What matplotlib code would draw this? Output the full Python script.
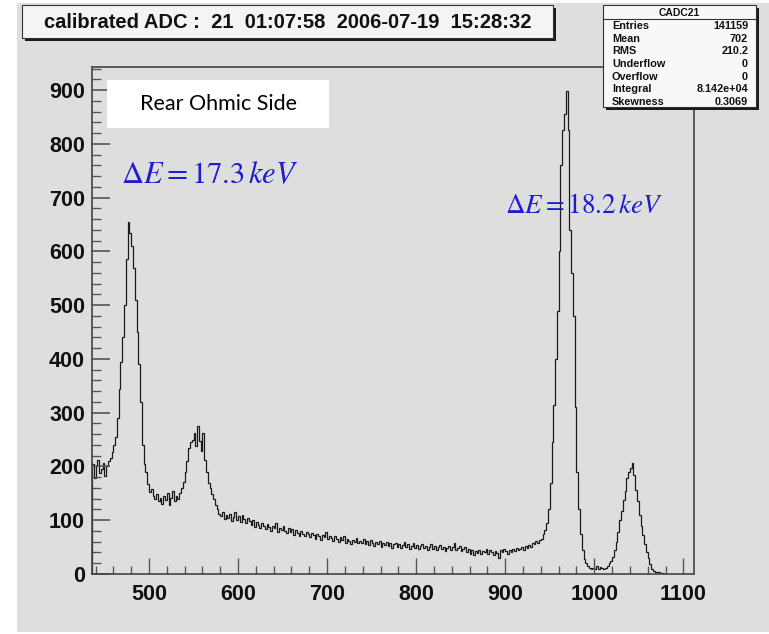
import numpy as np
import matplotlib.pyplot as plt
from matplotlib.patches import Rectangle
from matplotlib.ticker import MultipleLocator

W, H = 769, 634

# calibrated ADC spectrum, 2-unit bins starting at 436
adc_lo, adc_step = 436, 2
counts = [
    205, 178, 200, 212, 188, 196, 207, 183, 201, 210,   # 436
    215, 226, 240, 255, 290, 345, 395, 440, 500, 585,   # 456
    655, 635, 610, 570, 510, 450, 390, 320, 240, 205,   # 476
    190, 168, 152, 158, 145, 140, 148, 136, 142, 130,   # 496
    145, 138, 150, 128, 142, 155, 135, 146, 140, 150,   # 516
    160, 172, 190, 210, 235, 245, 250, 262, 238, 275,   # 536
    248, 228, 262, 212, 190, 170, 160, 148, 140, 128,   # 556
    120, 112, 108, 115, 102, 110, 104, 112, 98, 106,    # 576
    115, 100, 108, 96, 110, 102, 94, 105, 98, 92,       # 596
    100, 88, 97, 92, 86, 95, 90, 84, 93, 88,            # 616
    80, 90, 85, 94, 78, 86, 82, 90, 80, 76,             # 636
    85, 79, 84, 73, 82, 77, 71, 80, 75, 70,             # 656
    78, 74, 68, 77, 72, 66, 75, 70, 64, 73,             # 676
    69, 78, 65, 71, 67, 62, 70, 66, 60, 68,             # 696
    64, 70, 58, 66, 62, 55, 64, 60, 67, 57,             # 716
    62, 58, 65, 56, 61, 54, 63, 58, 52, 60,             # 736
    56, 62, 50, 58, 54, 60, 52, 57, 49, 55,             # 756
    58, 51, 56, 48, 54, 59, 50, 55, 47, 53,             # 776
    57, 49, 54, 46, 52, 56, 48, 53, 45, 51,             # 796
    55, 47, 52, 44, 50, 54, 46, 51, 43, 49,             # 816
    53, 45, 50, 58, 44, 49, 52, 42, 47, 51,             # 836
    40, 46, 38, 44, 36, 42, 39, 45, 37, 43,             # 856
    40, 46, 38, 44, 41, 35, 43, 39, 30, 44,             # 876
    40, 46, 42, 38, 45, 41, 47, 43, 49, 44,             # 896
    46, 50, 45, 52, 48, 54, 50, 58, 55, 62,             # 916
    58, 64, 66, 75, 82, 95, 120, 170, 245, 315,         # 936
    400, 490, 600, 760, 825, 855, 898, 825, 640, 560,   # 956
    480, 310, 190, 120, 75, 45, 28, 20, 14, 12,         # 976
    10, 12, 9, 14, 10, 13, 11, 9, 12, 15,               # 996
    20, 24, 32, 45, 60, 78, 100, 118, 138, 155,         # 1016
    178, 190, 198, 206, 185, 156, 135, 110, 90, 72,     # 1036
    56, 40, 30, 18, 9, 6, 4, 3, 3, 2,                   # 1056
    1, 0,                                               # 1076
]
adc_edges = adc_lo + adc_step * np.arange(len(counts) + 1)

x_ticks = [500, 600, 700, 800, 900, 1000, 1100]
y_ticks = [0, 100, 200, 300, 400, 500, 600, 700, 800, 900]

title = "calibrated ADC :  21  01:07:58  2006-07-19  15:28:32"
stats_name = "CADC21"
stats_labels = ["Entries", "Mean", "RMS", "Underflow", "Overflow", "Integral", "Skewness"]
stats_values = ["141159", "702", "210.2", "0", "0", "8.142e+04", "0.3069"]
side_label = "Rear Ohmic Side"
peak_labels = [r"$\Delta E=17.3\,keV$", r"$\Delta E=18.2\,keV$"]

plt.rcParams['font.family'] = ['Liberation Sans', 'DejaVu Sans']
plt.rcParams['mathtext.fontset'] = 'stix'

PAD = '#dedede'


def fx(x):
    return x / W


def fy(y):
    return 1 - y / H


def box(fig, x0, y0, x1, y1, face, shadow=True, z=2):
    # ROOT style pave: box with a dark drop shadow on the right and bottom
    if shadow:
        fig.add_artist(Rectangle((fx(x0 + 3), fy(y1 + 3)), (x1 - x0) / W, (y1 - y0) / H,
                                 transform=fig.transFigure, facecolor='#1a1a1a',
                                 edgecolor='none', zorder=z))
    fig.add_artist(Rectangle((fx(x0), fy(y1)), (x1 - x0) / W, (y1 - y0) / H,
                             transform=fig.transFigure, facecolor=face,
                             edgecolor='#333333' if shadow else 'none', lw=0.8,
                             zorder=z + 0.1))


fig = plt.figure(figsize=(W / 100, H / 100), dpi=100)
fig.patch.set_facecolor('white')
fig.add_artist(Rectangle((fx(17), fy(632)), (W - 17) / W, (632 - 3) / H,
                         transform=fig.transFigure, facecolor=PAD,
                         edgecolor='none', zorder=-5))

ax = fig.add_axes([fx(92), fy(574), (694 - 92) / W, (574 - 67) / H])
ax.set_facecolor(PAD)
ax.stairs(counts, adc_edges, color='#1a1a1a', lw=0.9)

ax.set_xlim(436, 1112)
ax.set_ylim(0, 943)
ax.set_xticks(x_ticks)
ax.set_yticks(y_ticks)
ax.xaxis.set_minor_locator(MultipleLocator(20))
ax.yaxis.set_minor_locator(MultipleLocator(20))
ax.tick_params(which='both', direction='in', top=False, right=False, color='#555555')
ax.tick_params(axis='y', which='major', length=13, width=1.2, pad=5)
ax.tick_params(axis='y', which='minor', length=6.5, width=1.0)
ax.tick_params(axis='x', which='major', length=11.5, width=1.0, pad=7)
ax.tick_params(axis='x', which='minor', length=6, width=1.0)
for lab in ax.get_xticklabels() + ax.get_yticklabels():
    lab.set_fontsize(15.5)
    lab.set_fontweight('bold')
    lab.set_color('#111111')
for side in ['left', 'bottom', 'top', 'right']:
    ax.spines[side].set_color('#444444')
    ax.spines[side].set_linewidth(1.2)

# run title pave
box(fig, 22, 5, 553, 38, '#f4f4f4')
fig.text(fx(288), fy(22), title, ha='center', va='center', fontsize=14.5,
         fontweight='bold', color='#111111', zorder=5)

# statistics pave
box(fig, 603, 5, 756, 107, '#f8f8f8')
fig.add_artist(plt.Line2D([fx(603), fx(756)], [fy(19), fy(19)],
                          transform=fig.transFigure, color='#333333', lw=0.8, zorder=5))
fig.text(fx(679), fy(12.5), stats_name, ha='center', va='center', fontsize=7.5,
         fontweight='bold', color='#111111', zorder=5)
for i, (lab, val) in enumerate(zip(stats_labels, stats_values)):
    y = 26 + i * 12.7
    fig.text(fx(612), fy(y), lab, ha='left', va='center', fontsize=7.8,
             fontweight='bold', color='#111111', zorder=5)
    fig.text(fx(748), fy(y), val, ha='right', va='center', fontsize=7.8,
             fontweight='bold', color='#111111', zorder=5)

# annotation box
box(fig, 107, 80, 329, 128, 'white', shadow=False)
fig.text(fx(218), fy(104), side_label, ha='center', va='center', fontsize=15.5,
         family=['Lato', 'DejaVu Sans'], color='black', zorder=5)

# resolution labels
fig.text(fx(121), fy(183), peak_labels[0], ha='left', va='baseline', fontsize=22,
         color='#1c1cd0', zorder=5)
fig.text(fx(505), fy(213), peak_labels[1], ha='left', va='baseline', fontsize=19.5,
         color='#1c1cd0', zorder=5)

fig.savefig('out.png', dpi=100)
